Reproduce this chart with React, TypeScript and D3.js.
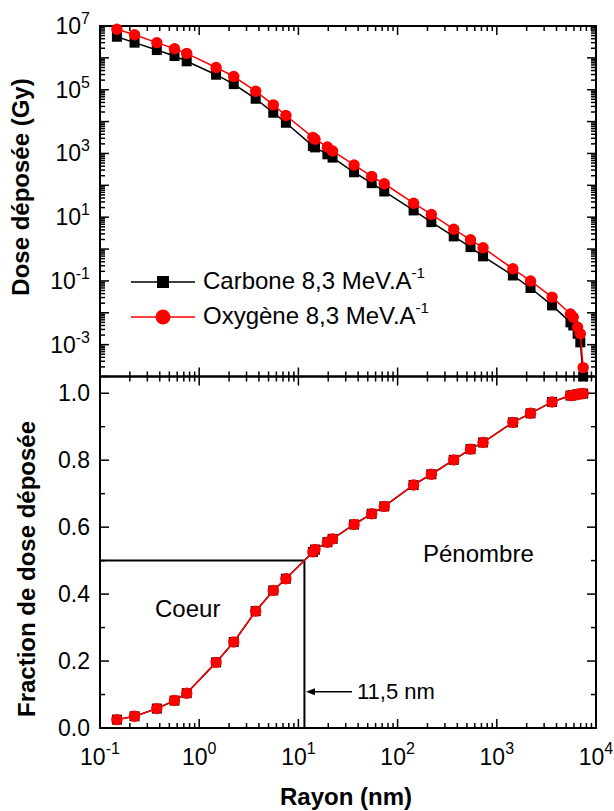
import React from "react";
import * as d3 from "d3";

// ---- data ----
const radius = [0.148, 0.223, 0.374, 0.564, 0.748, 1.48, 2.23, 3.71, 5.58, 7.48, 14.0, 14.7, 19.6, 22.1, 36.4, 54.8, 73.4, 145, 219, 368, 543, 727, 1452, 2188, 3606, 5530, 5900, 6520, 6950, 7420];
const doseCarbone = [4.6e6, 3.0e6, 1.76e6, 1.14e6, 7.8e5, 2.96e5, 1.5e5, 5.2e4, 1.9e4, 9.2e3, 1.7e3, 1.55e3, 940, 740, 257, 117, 64, 16.3, 7.0, 2.5, 1.15, 0.59, 0.148, 0.06, 0.017, 0.005, 0.004, 0.0022, 0.00118, 1.0e-4];
const doseOxygene = [7.9e6, 5.3e6, 3.0e6, 1.94e6, 1.38e6, 5.0e5, 2.6e5, 9.0e4, 3.35e4, 1.55e4, 3.2e3, 2.8e3, 1.6e3, 1.2e3, 435, 191, 112, 27.5, 12.2, 4.2, 1.95, 1.1, 0.24, 0.1, 0.031, 0.0092, 0.0072, 0.0035, 0.0022, 1.9e-4];
const fracCarbone = [0.025, 0.035, 0.058, 0.082, 0.104, 0.196, 0.257, 0.349, 0.411, 0.446, 0.526, 0.533, 0.555, 0.565, 0.608, 0.64, 0.662, 0.726, 0.758, 0.801, 0.833, 0.853, 0.913, 0.94, 0.974, 0.993, 0.994, 0.997, 0.998, 0.999];
const fracOxygene = [0.025, 0.035, 0.058, 0.082, 0.104, 0.196, 0.257, 0.349, 0.411, 0.446, 0.526, 0.533, 0.555, 0.565, 0.608, 0.64, 0.662, 0.726, 0.758, 0.801, 0.833, 0.853, 0.913, 0.94, 0.974, 0.993, 0.994, 0.997, 0.998, 0.999];
const xDecades = [-1, 0, 1, 2, 3, 4];
const doseLabelExps = [7, 5, 3, 1, -1, -3];
const fracTicks = [0, 0.2, 0.4, 0.6, 0.8, 1.0];
const fracMinor = [0.1, 0.3, 0.5, 0.7, 0.9];
const coreRadius = 11.5;
const legendLabels = ["Carbone 8,3 MeV.A", "Oxygène 8,3 MeV.A"];

const FONT = "'Liberation Sans', Arial, Helvetica, sans-serif";

const L = 100, R = 596, T = 26, M = 376.5, B = 728;

export default function App() {
  const x = d3.scaleLog().domain([0.1, 1e4]).range([L, R]);
  const yD = d3.scaleLog().domain([1e-4, 1e7]).range([M, T]);
  const yF = d3.scaleLinear().domain([0, 1.05]).range([B, M]);

  const xMinor: number[] = [];
  for (let d = -1; d < 4; d++) for (let k = 2; k <= 9; k++) xMinor.push(k * Math.pow(10, d));
  const yMinor: number[] = [];
  for (let d = -4; d < 7; d++) for (let k = 2; k <= 9; k++) yMinor.push(k * Math.pow(10, d));
  const yMajor: number[] = [];
  for (let d = -4; d <= 7; d++) yMajor.push(Math.pow(10, d));

  const lineDC = d3.line<number>().x((_, i) => x(radius[i])).y((v) => yD(v));
  const lineF = d3.line<number>().x((_, i) => x(radius[i])).y((v) => yF(v));

  const MAJ = 9, MIN = 5;
  const tk = { stroke: "#000", strokeWidth: 1.5 } as const;

  const xTicks = (yLine: number, dir: number, key: string) => (
    <g key={key}>
      {xDecades.map((e) => (
        <line key={"M" + e} x1={x(Math.pow(10, e))} x2={x(Math.pow(10, e))} y1={yLine} y2={yLine + dir * MAJ} {...tk} />
      ))}
      {xMinor.map((v, i) => (
        <line key={"m" + i} x1={x(v)} x2={x(v)} y1={yLine} y2={yLine + dir * MIN} {...tk} />
      ))}
    </g>
  );

  const sq = 10;
  const csq = 12;

  return (
    <svg width={614} height={811} style={{ position: "absolute", left: 0, top: 0, background: "#fff" }} fontFamily={FONT}>
      <rect x={0} y={0} width={614} height={811} fill="#fff" />
      {/* ---------- upper panel ticks ---------- */}
      {xTicks(T, 1, "tTop")}
      {xTicks(M, -1, "tMidUp")}
      {xTicks(M, 1, "tMidDown")}
      {xTicks(B, -1, "tBot")}
      {yMajor.map((v, i) => (
        <g key={"yM" + i}>
          <line x1={L} x2={L + MAJ} y1={yD(v)} y2={yD(v)} {...tk} />
          <line x1={R} x2={R - MAJ} y1={yD(v)} y2={yD(v)} {...tk} />
        </g>
      ))}
      {yMinor.map((v, i) => (
        <g key={"ym" + i}>
          <line x1={L} x2={L + MIN} y1={yD(v)} y2={yD(v)} {...tk} />
          <line x1={R} x2={R - MIN} y1={yD(v)} y2={yD(v)} {...tk} />
        </g>
      ))}
      {/* lower panel y ticks */}
      {fracTicks.map((v) => (
        <g key={"fM" + v}>
          <line x1={L} x2={L + MAJ} y1={yF(v)} y2={yF(v)} {...tk} />
          <line x1={R} x2={R - MAJ} y1={yF(v)} y2={yF(v)} {...tk} />
        </g>
      ))}
      {fracMinor.map((v) => (
        <g key={"fm" + v}>
          <line x1={L} x2={L + MIN} y1={yF(v)} y2={yF(v)} {...tk} />
          <line x1={R} x2={R - MIN} y1={yF(v)} y2={yF(v)} {...tk} />
        </g>
      ))}

      {/* frames */}
      <rect x={L} y={T} width={R - L} height={M - T} fill="none" stroke="#000" strokeWidth={2} />
      <rect x={L} y={M} width={R - L} height={B - M} fill="none" stroke="#000" strokeWidth={2} />

      {/* upper labels */}
      {doseLabelExps.map((e) => (
        <text key={"dl" + e} x={90} y={yD(Math.pow(10, e)) + 8} textAnchor="end" fontSize={23}>
          10<tspan dy={-10} fontSize={16}>{e}</tspan>
        </text>
      ))}
      {/* lower labels */}
      {fracTicks.map((v) => (
        <text key={"fl" + v} x={90} y={yF(v) + 8} textAnchor="end" fontSize={23}>
          {v.toFixed(1)}
        </text>
      ))}
      {/* x labels */}
      {xDecades.map((e) => (
        <text key={"xl" + e} x={x(Math.pow(10, e))} y={765} textAnchor="middle" fontSize={23}>
          10<tspan dy={-11} fontSize={16}>{e}</tspan>
        </text>
      ))}

      {/* titles */}
      <text x={346} y={805} textAnchor="middle" fontSize={24} fontWeight="bold">Rayon (nm)</text>
      <text transform="translate(29,187) rotate(-90)" textAnchor="middle" fontSize={24} fontWeight="bold">Dose déposée (Gy)</text>
      <text transform="translate(35,569) rotate(-90)" textAnchor="middle" fontSize={24} fontWeight="bold">Fraction de dose déposée</text>

      {/* ---------- upper data ---------- */}
      <path d={lineDC(doseCarbone) || ""} fill="none" stroke="#000" strokeWidth={1.5} />
      {doseCarbone.map((v, i) => (
        <rect key={"dc" + i} x={x(radius[i]) - sq / 2} y={yD(v) - sq / 2} width={sq} height={sq} fill="#000" />
      ))}
      <path d={lineDC(doseOxygene) || ""} fill="none" stroke="#ff0000" strokeWidth={1.5} />
      {doseOxygene.map((v, i) => (
        <circle key={"do" + i} cx={x(radius[i])} cy={yD(v)} r={5.7} fill="#ff0000" />
      ))}

      {/* legend */}
      <line x1={131} x2={195} y1={282} y2={282} stroke="#000" strokeWidth={1.5} />
      <rect x={163 - csq / 2} y={282 - csq / 2} width={csq} height={csq} fill="#000" />
      <text x={203} y={288.5} fontSize={24}>
        {legendLabels[0]}<tspan dy={-11} fontSize={15}>-1</tspan>
      </text>
      <line x1={131} x2={195} y1={317} y2={317} stroke="#ff0000" strokeWidth={1.5} />
      <circle cx={163} cy={317} r={7.5} fill="#ff0000" />
      <text x={203} y={323.5} fontSize={24}>
        {legendLabels[1]}<tspan dy={-11} fontSize={15}>-1</tspan>
      </text>

      {/* ---------- lower annotations ---------- */}
      <line x1={L} x2={x(coreRadius)} y1={yF(0.5)} y2={yF(0.5)} stroke="#000" strokeWidth={2} />
      <line x1={x(coreRadius)} x2={x(coreRadius)} y1={yF(0.5)} y2={B} stroke="#000" strokeWidth={2} />
      <line x1={x(coreRadius) + 6} x2={352} y1={yF(0.108)} y2={yF(0.108)} stroke="#000" strokeWidth={1.5} />
      <path d={`M${x(coreRadius) + 1.5},${yF(0.108)} l9,-3.5 l0,7 z`} fill="#000" />
      <text x={357} y={699} fontSize={22}>11,5 nm</text>
      <text x={155} y={617} fontSize={24}>Coeur</text>
      <text x={423} y={561.5} fontSize={24}>Pénombre</text>

      {/* ---------- lower data ---------- */}
      <path d={lineF(fracCarbone) || ""} fill="none" stroke="#000" strokeWidth={1.5} />
      {fracCarbone.map((v, i) => (
        <rect key={"fc" + i} x={x(radius[i]) - sq / 2} y={yF(v) - sq / 2} width={sq} height={sq} fill="#000" />
      ))}
      <path d={lineF(fracOxygene) || ""} fill="none" stroke="#ff0000" strokeWidth={1.5} />
      {fracOxygene.map((v, i) => (
        <circle key={"fo" + i} cx={x(radius[i])} cy={yF(v)} r={5.7} fill="#ff0000" />
      ))}
    </svg>
  );
}
